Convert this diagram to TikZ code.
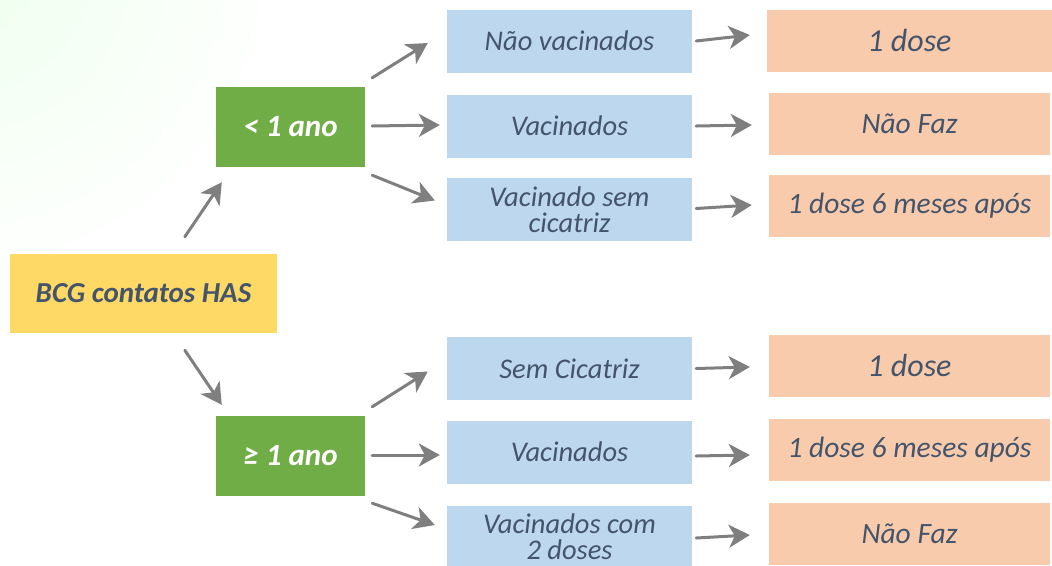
\documentclass[tikz,border=0pt]{standalone}
\usepackage{fontspec}
\setmainfont{Carlito}
\usetikzlibrary{arrows.meta}
\definecolor{txt}{HTML}{44546A}
\definecolor{ylw}{HTML}{FFD966}
\definecolor{grn}{HTML}{70AD47}
\definecolor{blu}{HTML}{BDD7EE}
\definecolor{org}{HTML}{F8CBAD}
\definecolor{arrg}{HTML}{7F7F7F}
\tikzset{
  box/.style={inner sep=0pt, align=center, text=txt, font=\itshape\fontsize{28.5}{26}\selectfont},
  ybox/.style={box, fill=ylw, minimum width=267, minimum height=79, font=\bfseries\itshape\fontsize{29}{26}\selectfont},
  gbox/.style={box, fill=grn, minimum width=149, minimum height=80, text=white, font=\bfseries\itshape\fontsize{31}{26}\selectfont},
  bbox/.style={box, fill=blu, minimum width=245, minimum height=63},
  obox/.style={box, fill=org, minimum width=281, minimum height=62, font=\itshape\fontsize{29.5}{26}\selectfont},
  arr/.style={draw=arrg, line width=3pt, line cap=round, -{Stealth[length=21pt,width=23pt,inset=6pt]}},
}
\begin{document}
\begin{tikzpicture}[x=1pt,y=-1pt]
\useasboundingbox (0,0) rectangle (1052,565);
\begin{scope}
\clip (0,0) rectangle (1052,565);
\shade[inner color=green!7, outer color=white] (-40,-40) circle (330);
\end{scope}

\node[ybox] (root) at (143.5,293.5) {BCG contatos HAS};
\node[gbox] (g1) at (290.5,127) {< 1 ano};
\node[gbox] (g2) at (290.5,456) {≥ 1 ano};

\node[bbox] (b1) at (569.5,41) {Não vacinados};
\node[bbox] (b2) at (569.5,126) {Vacinados};
\node[bbox] (b3) at (569.5,209.5) {Vacinado sem\\cicatriz};
\node[bbox] (b4) at (569.5,368.5) {Sem Cicatriz};
\node[bbox] (b5) at (569.5,452) {Vacinados};
\node[bbox] (b6) at (569.5,537) {Vacinados com\\2 doses};

\node[obox, minimum width=285, font=\itshape\fontsize{32}{26}\selectfont] (o1) at (909.5,41) {1 dose};
\node[obox] (o2) at (909.5,124) {Não Faz};
\node[obox] (o3) at (909.5,206) {1 dose 6 meses após};
\node[obox, font=\itshape\fontsize{32}{26}\selectfont] (o4) at (909.5,366) {1 dose};
\node[obox] (o5) at (909.5,450) {1 dose 6 meses após};
\node[obox] (o6) at (909.5,534) {Não Faz};

\draw[arr] ([shift={(175,-17)}]root.north west) -- ([shift={(6,15)}]g1.south west);
\draw[arr] ([shift={(175,17)}]root.south west) -- ([shift={(6,-11)}]g2.north west);

\draw[arr] ([shift={(7,-9)}]g1.north east) -- ([shift={(-19,2)}]b1.west);
\draw[arr] ([shift={(7,-1)}]g1.east) -- ([shift={(-7,-1)}]b2.west);
\draw[arr] ([shift={(7,8)}]g1.south east) -- ([shift={(-12,-9)}]b3.west);
\draw[arr] ([shift={(7,-9)}]g2.north east) -- ([shift={(-19,3)}]b4.west);
\draw[arr] ([shift={(7,-1)}]g2.east) -- ([shift={(-7,3)}]b5.west);
\draw[arr] ([shift={(7,7)}]g2.south east) -- ([shift={(-12,-12)}]b6.west);

\draw[arr] ([xshift=4]b1.east) -- ([shift={(-17,-6)}]o1.west);
\draw[arr] ([xshift=4]b2.east) -- ([shift={(-17,1)}]o2.west);
\draw[arr] ([shift={(4,-1)}]b3.east) -- ([shift={(-17,-1)}]o3.west);
\draw[arr] ([xshift=4]b4.east) -- ([shift={(-19,1)}]o4.west);
\draw[arr] ([shift={(4,4)}]b5.east) -- ([shift={(-19,5)}]o5.west);
\draw[arr] ([shift={(4,1)}]b6.east) -- ([shift={(-19,1)}]o6.west);
\end{tikzpicture}
\end{document}
